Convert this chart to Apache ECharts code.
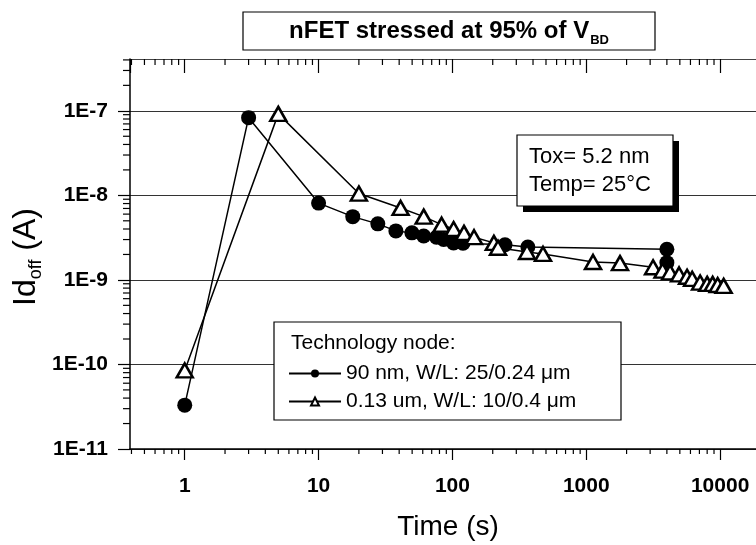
<!DOCTYPE html>
<html><head><meta charset="utf-8">
<script src="https://cdn.jsdelivr.net/npm/echarts@6/dist/echarts.min.js"></script>
<style>html,body{margin:0;padding:0;background:#fff;overflow:hidden;width:756px;height:545px}#c{width:784px;height:545px}</style>
</head><body><div id="c"></div>
<script>
// ---- data ----
const xTickValues = [1, 10, 100, 1000, 10000];
const xTickLabels = ['1', '10', '100', '1000', '10000'];
const yTickValues = [1e-11, 1e-10, 1e-9, 1e-8, 1e-7];
const yTickLabels = ['1E-11', '1E-10', '1E-9', '1E-8', '1E-7'];

const name90 = '90 nm, W/L: 25/0.24 \u03bcm';
const time90 = [1, 3, 10, 18, 27.7, 37.8, 49.8, 61, 76, 86, 102, 120, 247, 366, 4000, 4000];
const id90 = [3.3e-11, 8.3e-8, 8.1e-9, 5.6e-9, 4.6e-9, 3.8e-9, 3.6e-9, 3.3e-9, 3.2e-9, 3.0e-9, 2.74e-9, 2.72e-9, 2.6e-9, 2.45e-9, 2.3e-9, 1.6e-9];

const name13 = '0.13 um, W/L: 10/0.4 \u03bcm';
const time13 = [1, 5, 20, 41, 61, 83, 102, 122, 145, 204, 219, 361, 475, 1123, 1786, 3155, 3715, 4227, 4934, 5662, 6180, 7087, 8000, 8790, 9580, 10620];
const id13 = [8.5e-11, 9.2e-8, 1.05e-8, 7.1e-9, 5.6e-9, 4.5e-9, 4.0e-9, 3.6e-9, 3.2e-9, 2.74e-9, 2.4e-9, 2.14e-9, 2.03e-9, 1.63e-9, 1.58e-9, 1.41e-9, 1.29e-9, 1.23e-9, 1.16e-9, 1.09e-9, 1.03e-9, 9.3e-10, 8.97e-10, 8.97e-10, 8.7e-10, 8.5e-10];

// ---- axis ranges ----
const X_MIN = 0.39, X_MAX = 30000;
const Y_MIN = 1e-11, Y_MAX = 4.1e-7;

// minor tick positions (axis decoration)
const xMinor = [];
for (let d = 0.1; d <= 10000; d *= 10) for (let k = 2; k <= 9; k++) { const v = +(d * k).toPrecision(3); if (v > X_MIN && v < X_MAX) xMinor.push([v, Y_MIN]); }
const yMinor = [];
for (let e = -11; e <= -7; e++) for (let k = 2; k <= 9; k++) { const v = k * Math.pow(10, e); if (v > Y_MIN && v < Y_MAX) yMinor.push([X_MIN, v]); }

const FONT = "'Liberation Sans', Arial, sans-serif";

function lookup(vals, labels, v) {
  for (let i = 0; i < vals.length; i++) if (Math.abs(Math.log10(v) - Math.log10(vals[i])) < 1e-6) return labels[i];
  return '';
}

const chart = echarts.init(document.getElementById('c'), null, { renderer: 'canvas' });
const option = {
  animation: false,
  backgroundColor: '#fff',
  grid: { left: 130, top: 59, bottom: 96, right: 0 },
  xAxis: [{
    type: 'log', min: X_MIN, max: X_MAX, position: 'bottom',
    axisLine: { lineStyle: { color: '#000', width: 1.5 } },
    axisTick: { inside: false, length: 11, lineStyle: { color: '#000', width: 1.2 } },
    axisLabel: { margin: 27, fontSize: 21, fontWeight: 'bold', color: '#000', fontFamily: FONT,
      showMinLabel: false, showMaxLabel: false,
      formatter: v => lookup(xTickValues, xTickLabels, v) },
    splitLine: { show: false }
  }, {
    type: 'log', min: X_MIN, max: X_MAX, position: 'top',
    axisLine: { lineStyle: { color: '#444', width: 1.2 } },
    axisTick: { inside: true, length: 14, lineStyle: { color: '#000', width: 1.2 } },
    axisLabel: { show: false },
    splitLine: { show: false }
  }],
  yAxis: [{
    type: 'log', min: Y_MIN, max: Y_MAX,
    axisLine: { show: true, lineStyle: { color: '#000', width: 1.5 } },
    axisTick: { show: true, inside: false, length: 12, lineStyle: { color: '#000', width: 1.2 } },
    axisLabel: { margin: 22, fontSize: 21, fontWeight: 'bold', color: '#000', fontFamily: FONT,
      showMinLabel: true, showMaxLabel: false,
      formatter: v => lookup(yTickValues, yTickLabels, v) },
    splitLine: { show: true, lineStyle: { color: '#333', width: 1 } }
  }],
  legend: {
    orient: 'vertical', left: 288, top: 363, padding: 0, itemWidth: 52, itemHeight: 10, itemGap: 7, z: 10,
    textStyle: { fontSize: 21, color: '#000', fontFamily: FONT },
    data: [name90, name13]
  },
  series: [{
    name: name90, type: 'line', xAxisIndex: 0, yAxisIndex: 0,
    data: time90.map((t, i) => [t, id90[i]]),
    symbol: 'circle', symbolSize: 15,
    lineStyle: { color: '#000', width: 1.5 },
    itemStyle: { color: '#000', borderColor: '#000', borderWidth: 0 },
    z: 3
  }, {
    name: name13, type: 'line', xAxisIndex: 0, yAxisIndex: 0,
    data: time13.map((t, i) => [t, id13[i]]),
    symbol: 'triangle', symbolSize: [16, 14],
    lineStyle: { color: '#000', width: 1.5 },
    itemStyle: { color: '#fff', borderColor: '#000', borderWidth: 2.5 },
    z: 4
  }, {
    type: 'custom', xAxisIndex: 0, yAxisIndex: 0, silent: true, clip: false,
    data: xMinor,
    renderItem: function (params, api) {
      const t = api.value(0);
      const pb = api.coord([t, Y_MIN]);
      const pt = api.coord([t, Y_MAX]);
      return { type: 'group', children: [
        { type: 'line', shape: { x1: pb[0], y1: pb[1], x2: pb[0], y2: pb[1] + 5 }, style: { stroke: '#000', lineWidth: 1.2 } },
        { type: 'line', shape: { x1: pt[0], y1: pt[1], x2: pt[0], y2: pt[1] + 6 }, style: { stroke: '#000', lineWidth: 1.2 } }
      ] };
    }
  }, {
    type: 'custom', xAxisIndex: 0, yAxisIndex: 0, silent: true, clip: false,
    data: yMinor,
    renderItem: function (params, api) {
      const v = api.value(1);
      const p = api.coord([X_MIN, v]);
      return { type: 'line', shape: { x1: p[0] - 7, y1: p[1], x2: p[0], y2: p[1] }, style: { stroke: '#000', lineWidth: 1.2 } };
    }
  }],
  graphic: [
    // title box
    { type: 'rect', z: 5, shape: { x: 243, y: 12, width: 412, height: 38 }, style: { fill: '#fff', stroke: '#000', lineWidth: 1.2 } },
    { type: 'text', z: 6, x: 449, y: 31, style: {
      text: '{m|nFET stressed at 95% of V}{s|BD}', align: 'center', verticalAlign: 'middle',
      rich: { m: { fontSize: 24, fontWeight: 'bold', fontFamily: FONT, fill: '#000' },
              s: { fontSize: 13, fontWeight: 'bold', fontFamily: FONT, fill: '#000', padding: [18, 0, 0, 1] } } } },
    // Tox box with shadow
    { type: 'rect', z: 5, shape: { x: 523, y: 141, width: 156, height: 71 }, style: { fill: '#000' } },
    { type: 'rect', z: 6, shape: { x: 517, y: 135, width: 156, height: 71 }, style: { fill: '#fff', stroke: '#000', lineWidth: 1.2 } },
    { type: 'text', z: 7, x: 529, y: 157, style: { text: 'Tox= 5.2 nm', fontSize: 22, fontFamily: FONT, fill: '#000', verticalAlign: 'middle' } },
    { type: 'text', z: 7, x: 529, y: 185, style: { text: 'Temp= 25\u00b0C', fontSize: 22, fontFamily: FONT, fill: '#000', verticalAlign: 'middle' } },
    // legend box
    { type: 'rect', z: 5, shape: { x: 274, y: 322, width: 347, height: 98 }, style: { fill: '#fff', stroke: '#000', lineWidth: 1.2 } },
    { type: 'text', z: 7, x: 291, y: 343, style: { text: 'Technology node:', fontSize: 21, fontFamily: FONT, fill: '#000', verticalAlign: 'middle' } },
    // axis names
    { type: 'text', z: 7, x: 448, y: 527, style: { text: 'Time (s)', fontSize: 28, fontFamily: FONT, fill: '#000', align: 'center', verticalAlign: 'middle' } },
    { type: 'text', z: 7, x: 26, y: 257, rotation: Math.PI / 2, style: {
      text: '{a|Id}{b|off}{a| (A)}', align: 'center', verticalAlign: 'middle',
      rich: { a: { fontSize: 32, fontFamily: FONT, fill: '#000' },
              b: { fontSize: 18, fontFamily: FONT, fill: '#000', padding: [20, 0, 0, 0] } } } }
  ]
};
chart.setOption(option);
</script>
</body></html>
